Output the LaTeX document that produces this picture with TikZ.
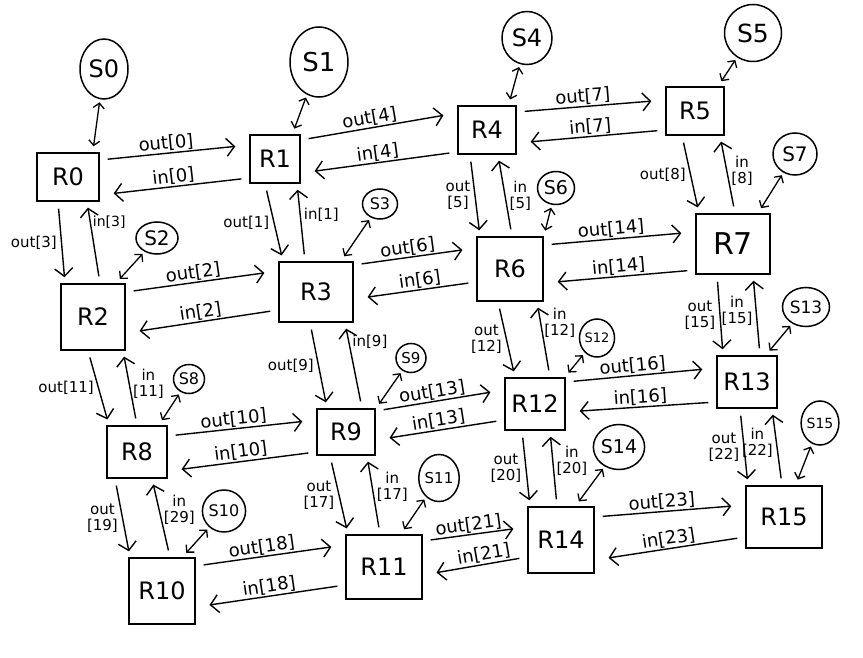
\documentclass[tikz,border=0pt]{standalone}
\usepackage{fontspec}
\setmainfont{DejaVu Sans}
\usetikzlibrary{arrows.meta,shapes.geometric}
\newcommand{\hpair}[9]{%
  \draw[lnk] ([yshift=#3pt]#1.east) -- ([yshift=#4pt]#2.west) node[hl,pos=.45,above=1pt,sloped]{#7};
  \draw[lnk] ([yshift=#6pt]#2.west) -- ([yshift=#5pt]#1.east) node[hl,pos=#9,above=1pt,sloped]{#8};}
\newcommand{\vpair}[9]{%
  \draw[vlnk] ([xshift=#3pt]#1.south) -- ([xshift=#4pt]#2.north) node[vl,pos=.5,left=4pt]{#7};
  \draw[vlnk] ([xshift=#6pt]#2.north) -- ([xshift=#5pt]#1.south) node[vl,#9]{#8};}
\begin{document}
\begin{tikzpicture}[x=1pt,y=-1pt,
  rt/.style={draw,line width=1.5pt,rectangle,inner sep=0pt,font=\fontsize{24}{28}\selectfont},
  sv/.style={draw,line width=1.5pt,ellipse,inner sep=0pt},
  lnk/.style={line width=1.4pt,-{Straight Barb[length=8pt,width=18pt]},shorten <=8pt,shorten >=14pt},
  vlnk/.style={line width=1.4pt,-{Straight Barb[length=8pt,width=18pt]},shorten <=7pt,shorten >=6pt},
  swl/.style={line width=1.3pt,{Straight Barb[length=5pt,width=11pt]}-{Straight Barb[length=5pt,width=11pt]},shorten <=6pt,shorten >=3pt},
  hl/.style={font=\fontsize{18}{21}\selectfont,inner sep=0pt},
  vl/.style={font=\fontsize{15}{16}\selectfont,inner sep=0pt,align=center},
]
\useasboundingbox (0,0) rectangle (863,658);
% routers
\node[rt,minimum width=62pt,minimum height=48pt] (R0) at (68,177) {R0};
\node[rt,minimum width=50pt,minimum height=48pt] (R1) at (275,159) {R1};
\node[rt,minimum width=58pt,minimum height=48pt] (R4) at (487,130) {R4};
\node[rt,minimum width=58pt,minimum height=48pt] (R5) at (695,111) {R5};
\node[rt,minimum width=64pt,minimum height=66pt] (R2) at (93,317) {R2};
\node[rt,minimum width=74pt,minimum height=60pt] (R3) at (316,292) {R3};
\node[rt,minimum width=66pt,minimum height=64pt] (R6) at (510,269) {R6};
\node[rt,minimum width=74pt,minimum height=60pt,font=\fontsize{30}{34}\selectfont] (R7) at (733,244) {R7};
\node[rt,minimum width=60pt,minimum height=52pt] (R8) at (137,452) {R8};
\node[rt,minimum width=58pt,minimum height=46pt] (R9) at (346,432) {R9};
\node[rt,minimum width=60pt,minimum height=52pt] (R12) at (535,404) {R12};
\node[rt,minimum width=60pt,minimum height=52pt] (R13) at (747,382) {R13};
\node[rt,minimum width=66pt,minimum height=66pt] (R10) at (162,591) {R10};
\node[rt,minimum width=76pt,minimum height=64pt] (R11) at (384,567) {R11};
\node[rt,minimum width=66pt,minimum height=66pt] (R14) at (561,540) {R14};
\node[rt,minimum width=76pt,minimum height=62pt] (R15) at (784,517) {R15};
% switches
\node[sv,minimum width=48pt,minimum height=60pt,font=\fontsize{24}{28}\selectfont] (S0) at (104,69) {S0};
\node[sv,minimum width=58pt,minimum height=70pt,font=\fontsize{26}{30}\selectfont] (S1) at (319,62) {S1};
\node[sv,minimum width=50pt,minimum height=53pt,font=\fontsize{24}{28}\selectfont] (S4) at (527,38) {S4};
\node[sv,minimum width=57pt,minimum height=57pt,font=\fontsize{25}{28}\selectfont] (S5) at (753,33) {S5};
\node[sv,minimum width=42pt,minimum height=32pt,font=\fontsize{20}{24}\selectfont] (S2) at (157,238) {S2};
\node[sv,minimum width=35pt,minimum height=30pt,font=\fontsize{16}{18}\selectfont] (S3) at (380,204) {S3};
\node[sv,minimum width=37pt,minimum height=33pt,font=\fontsize{19}{22}\selectfont] (S6) at (556,188) {S6};
\node[sv,minimum width=44pt,minimum height=42pt,font=\fontsize{20}{22}\selectfont] (S7) at (795,154) {S7};
\node[sv,minimum width=31pt,minimum height=29pt,font=\fontsize{16}{18}\selectfont] (S8) at (189,379) {S8};
\node[sv,minimum width=30pt,minimum height=29pt,font=\fontsize{15}{18}\selectfont] (S9) at (411,358) {S9};
\node[sv,minimum width=32pt,minimum height=38pt,font=\fontsize{13}{15}\selectfont] (S12) at (597,338) {S12};
\node[sv,minimum width=47pt,minimum height=39pt,font=\fontsize{17}{20}\selectfont] (S13) at (806,307) {S13};
\node[sv,minimum width=42pt,minimum height=42pt,font=\fontsize{16}{18}\selectfont] (S10) at (224,511) {S10};
\node[sv,minimum width=38pt,minimum height=47pt,font=\fontsize{15}{18}\selectfont] (S11) at (439,478) {S11};
\node[sv,minimum width=51pt,minimum height=45pt,font=\fontsize{19}{22}\selectfont] (S14) at (619,447) {S14};
\node[sv,minimum width=35pt,minimum height=44pt,font=\fontsize{14}{16}\selectfont] (S15) at (820,423) {S15};
% horizontal links
\hpair{R0}{R1}{17}{14}{-18}{-19}{out[0]}{in[0]}{.5}
\hpair{R1}{R4}{19}{17}{-14}{-22}{out[4]}{in[4]}{.5}
\hpair{R4}{R5}{18}{11}{-13}{-19}{out[7]}{in[7]}{.5}
\hpair{R2}{R3}{25}{21}{-16}{-18}{out[2]}{in[2]}{.5}
\hpair{R3}{R6}{27}{21}{-7}{-13}{out[6]}{in[6]}{.45}
\hpair{R6}{R7}{24}{12}{-14}{-26}{out[14]}{in[14]}{.5}
\hpair{R8}{R9}{16}{12}{-19}{-20}{out[10]}{in[10]}{.5}
\hpair{R9}{R12}{21}{14}{-8}{-16}{out[13]}{in[13]}{.5}
\hpair{R12}{R13}{22}{14}{-8}{-20}{out[16]}{in[16]}{.5}
\hpair{R10}{R11}{25}{22}{-16}{-18}{out[18]}{in[18]}{.5}
\hpair{R11}{R14}{26}{13}{-8}{-17}{out[21]}{in[21]}{.4}
\hpair{R14}{R15}{23}{12}{-20}{-20}{out[23]}{in[23]}{.5}
% vertical links
\vpair{R0}{R2}{-10}{-28}{19}{7}{out[3]}{in[3]}{pos=.75,right=2pt,font=\fontsize{14}{15}\selectfont}
\vpair{R1}{R3}{-10}{-33}{22}{-11}{out[1]}{in[1]}{pos=.6,right=3pt}
\vpair{R4}{R6}{-17}{-30}{11}{2}{out\\{[5]}}{in\\{[5]}}{pos=.5,right=4pt}
\vpair{R5}{R7}{-13}{-34}{25}{2}{out[8]}{in\\{[8]}}{pos=.55,right=4pt}
\vpair{R2}{R8}{-5}{-28}{30}{0}{out[11]}{in\\{[11]}}{pos=.55,right=3pt}
\vpair{R3}{R9}{-6}{-19}{29}{16}{out[9]}{in[9]}{pos=.78,right=3pt}
\vpair{R6}{R12}{-12}{-20}{27}{15}{out\\{[12]}}{in\\{[12]}}{pos=.72,right=3pt}
\vpair{R7}{R13}{-16}{-24}{20}{13}{out\\{[15]}}{in\\{[15]}}{pos=.55,left=3pt}
\vpair{R8}{R10}{-22}{-32}{15}{8}{out\\{[19]}}{in\\{[29]}}{pos=.6,right=4pt}
\vpair{R9}{R11}{-16}{-36}{21}{-4}{out\\{[17]}}{in\\{[17]}}{pos=.6,right=4pt}
\vpair{R12}{R14}{-13}{-31}{15}{-4}{out\\{[20]}}{in\\{[20]}}{pos=.6,right=3pt}
\vpair{R13}{R15}{-7}{-36}{25}{-2}{out\\{[22]}}{in\\{[22]}}{pos=.55,left=3pt}
% switch links
\foreach \k/\a in {0/45,1/55,4/49,5/47,2/56,3/51,6/44,7/51,8/51,9/38,12/42,13/55,10/59,11/63,14/67,15/70}{
  \draw[swl] (R\k.\a) -- (S\k);
}
\end{tikzpicture}
\end{document}
